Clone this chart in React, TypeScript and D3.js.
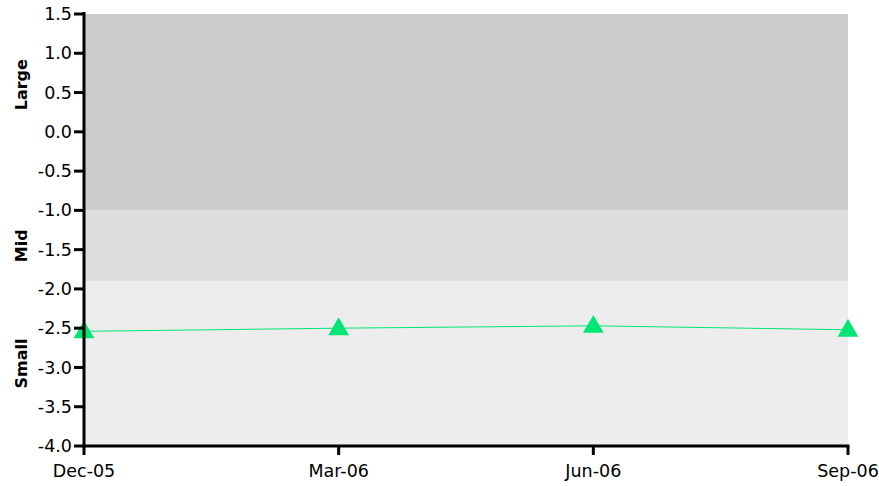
import React from "react";
import * as d3 from "d3";

// quarters along the x axis
const quarters = ["Dec-05", "Mar-06", "Jun-06", "Sep-06"];
// values
const values = [-2.54, -2.5, -2.47, -2.52];
// y axis ticks
const yTicks = [1.5, 1.0, 0.5, 0.0, -0.5, -1.0, -1.5, -2.0, -2.5, -3.0, -3.5, -4.0];
// background bands (from / to in data units) and where each label sits
const bandNames = ["Large", "Mid", "Small"];
const bandFrom = [1.5, -1.0, -1.9];
const bandTo = [-1.0, -1.9, -4.0];
const bandLabelAt = [0.6, -1.45, -2.95];
const bandColors = ["#cccccc", "#dddddd", "#ededed"];

const W = 879;
const H = 486;
const margin = { top: 14, right: 31, bottom: 40, left: 84 };
const font = "DejaVu Sans, Verdana, sans-serif";

export default function App() {
  const x = d3
    .scalePoint<string>()
    .domain(quarters)
    .range([margin.left, W - margin.right]);
  const y = d3
    .scaleLinear()
    .domain([-4, 1.5])
    .range([H - margin.bottom, margin.top]);

  const line = d3
    .line<number>()
    .x((_, i) => x(quarters[i]) as number)
    .y((d) => y(d));

  const tri = d3.symbol().type(d3.symbolTriangle).size(185)();

  const x0 = margin.left;
  const x1 = W - margin.right;
  const yBottom = y(-4);

  return (
    <svg
      width={W}
      height={H}
      style={{ position: "absolute", left: 0, top: 0, background: "#fff" }}
      fontFamily={font}
    >
      {/* bands */}
      {bandNames.map((name, i) => (
        <rect
          key={name}
          x={x0}
          y={y(bandFrom[i])}
          width={x1 - x0}
          height={y(bandTo[i]) - y(bandFrom[i])}
          fill={bandColors[i]}
        />
      ))}
      {bandNames.map((name, i) => (
        <text
          key={"l" + name}
          transform={`translate(27,${y(bandLabelAt[i])}) rotate(-90)`}
          textAnchor="middle"
          fontSize={16}
          fontWeight="bold"
          fill="#000"
        >
          {name}
        </text>
      ))}

      {/* series */}
      <path d={line(values) || ""} fill="none" stroke="#00e676" strokeWidth={1} />
      {values.map((v, i) => (
        <path
          key={quarters[i]}
          d={tri || ""}
          transform={`translate(${x(quarters[i])},${y(v) + 1})`}
          fill="#00e676"
        />
      ))}

      {/* y axis */}
      <line x1={x0} x2={x0} y1={margin.top - 2} y2={yBottom + 1.5} stroke="#000" strokeWidth={3} />
      {yTicks.map((t) => (
        <g key={t}>
          <line x1={x0 - 10} x2={x0} y1={y(t)} y2={y(t)} stroke="#000" strokeWidth={3} />
          <text
            x={x0 - 12}
            y={y(t)}
            dy="0.35em"
            textAnchor="end"
            fontSize={17.5}
            fill="#000"
          >
            {t.toFixed(1)}
          </text>
        </g>
      ))}

      {/* x axis */}
      <line x1={x0 - 1.5} x2={x1 + 1.5} y1={yBottom} y2={yBottom} stroke="#000" strokeWidth={3} />
      {quarters.map((q) => (
        <g key={q}>
          <line
            x1={x(q)}
            x2={x(q)}
            y1={yBottom}
            y2={yBottom + 9}
            stroke="#000"
            strokeWidth={3}
          />
          <text x={x(q)} y={yBottom + 31} textAnchor="middle" fontSize={17.5} fill="#000">
            {q}
          </text>
        </g>
      ))}
    </svg>
  );
}
